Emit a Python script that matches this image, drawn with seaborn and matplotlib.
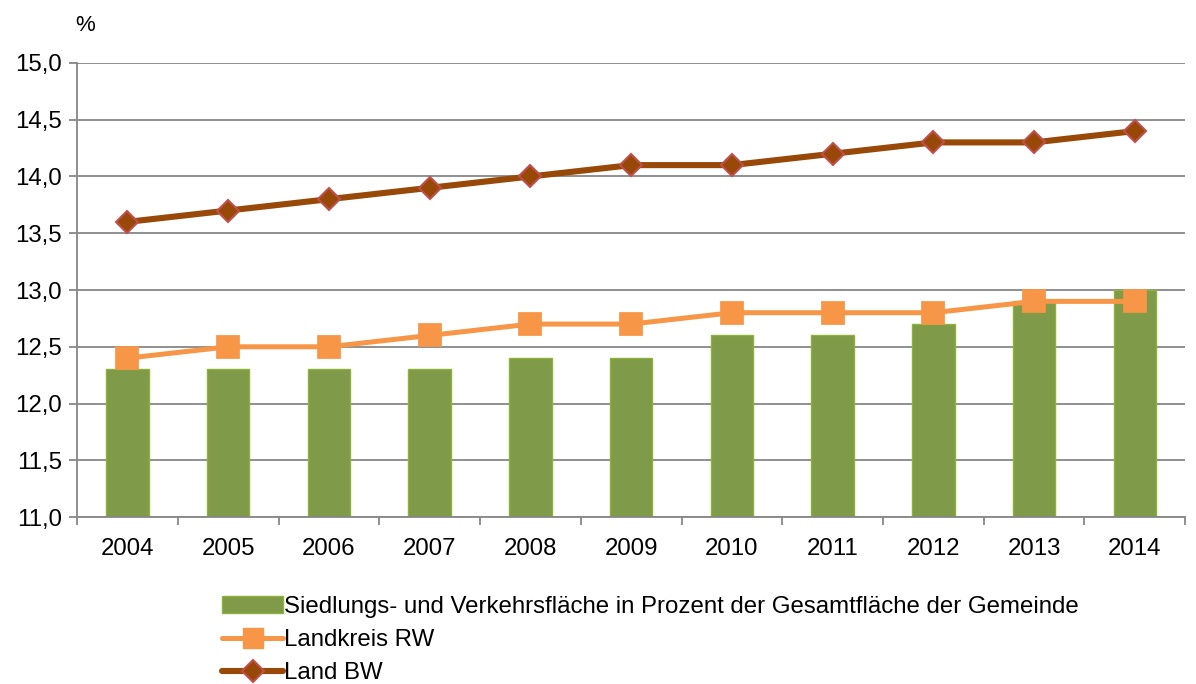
import numpy as np
import pandas as pd
import matplotlib
matplotlib.use("Agg")
import matplotlib.pyplot as plt
import seaborn as sns
from matplotlib.lines import Line2D
from matplotlib.patches import Patch

years = ["2004", "2005", "2006", "2007", "2008", "2009", "2010", "2011", "2012", "2013", "2014"]
gemeinde = [12.3, 12.3, 12.3, 12.3, 12.4, 12.4, 12.6, 12.6, 12.7, 12.9, 13.0]
landkreis_rw = [12.4, 12.5, 12.5, 12.6, 12.7, 12.7, 12.8, 12.8, 12.8, 12.9, 12.9]
land_bw = [13.6, 13.7, 13.8, 13.9, 14.0, 14.1, 14.1, 14.2, 14.3, 14.3, 14.4]

y_ticks = [11.0, 11.5, 12.0, 12.5, 13.0, 13.5, 14.0, 14.5, 15.0]

labels = [
    "Siedlungs- und Verkehrsfläche in Prozent der Gesamtfläche der Gemeinde",
    "Landkreis RW",
    "Land BW",
]

BAR = "#7F9A48"
BAR_EDGE = "#8DB33A"
ORANGE = "#F79646"
BROWN = "#984807"
DIAMOND_EDGE = "#C0504D"
GRID = "#878787"
FS = 17.3

sns.set_theme(style="white")
plt.rcParams["font.family"] = ["Liberation Sans", "DejaVu Sans"]
plt.rcParams["text.color"] = "black"

df = pd.DataFrame({"year": years, "gemeinde": gemeinde,
                   "rw": landkreis_rw, "bw": land_bw})

fig = plt.figure(figsize=(11.96, 6.84), dpi=100)
ax = fig.add_axes([0.0644, 0.244, 0.9266, 0.664])

sns.barplot(data=df, x="year", y="gemeinde", color=BAR, width=0.42,
            saturation=1, edgecolor=BAR_EDGE, linewidth=1, ax=ax, zorder=2)
sns.pointplot(data=df, x="year", y="rw", color=ORANGE, markers="s",
              linestyles="-", markersize=15, linewidth=3.6, ax=ax, zorder=3)
sns.pointplot(data=df, x="year", y="bw", color=BROWN, markers="D",
              linestyles="-", markersize=11.5, linewidth=4.4,
              markeredgecolor=DIAMOND_EDGE, markeredgewidth=1.5, ax=ax, zorder=4)

ax.set_ylim(11.0, 15.0)
ax.set_xlim(-0.5, len(years) - 0.5)
ax.set_yticks(y_ticks)
ax.set_yticklabels([f"{v:.1f}".replace(".", ",") for v in y_ticks])
ax.set_xticks(np.arange(len(years)))
ax.set_xticklabels(years)
ax.set_xlabel("")
ax.set_ylabel("")

ax.yaxis.grid(True, color=GRID, linewidth=1.3, zorder=0)
ax.set_axisbelow(True)
for side in ["top", "right"]:
    ax.spines[side].set_visible(False)
for side in ["left", "bottom"]:
    ax.spines[side].set_color(GRID)
    ax.spines[side].set_linewidth(1.3)

ax.tick_params(axis="y", which="major", left=True, length=6, width=1.3,
               color=GRID, labelsize=FS, pad=5, labelcolor="black")
ax.tick_params(axis="x", which="major", bottom=False, labelsize=FS,
               pad=9, labelcolor="black")
# separator ticks between categories
ax.set_xticks(np.arange(-0.5, len(years), 1.0), minor=True)
ax.tick_params(axis="x", which="minor", bottom=True, length=6, width=1.3,
               color=GRID, direction="out")

fig.text(0.063, 0.962, "%", fontsize=16, ha="left", va="center", color="black")

handles = [
    Patch(facecolor=BAR, edgecolor=BAR_EDGE),
    Line2D([0], [0], color=ORANGE, linewidth=3.6, marker="s", markersize=15),
    Line2D([0], [0], color=BROWN, linewidth=4.4, marker="D", markersize=11.5,
           markeredgecolor=DIAMOND_EDGE, markeredgewidth=1.5),
]
fig.legend(handles, labels, loc="upper left", bbox_to_anchor=(0.178, 0.143),
           frameon=False, fontsize=FS, handlelength=2.5, handleheight=0.7,
           handletextpad=0.05, labelspacing=0.47, borderaxespad=0,
           labelcolor="black")

fig.savefig("out.png", dpi=100)
